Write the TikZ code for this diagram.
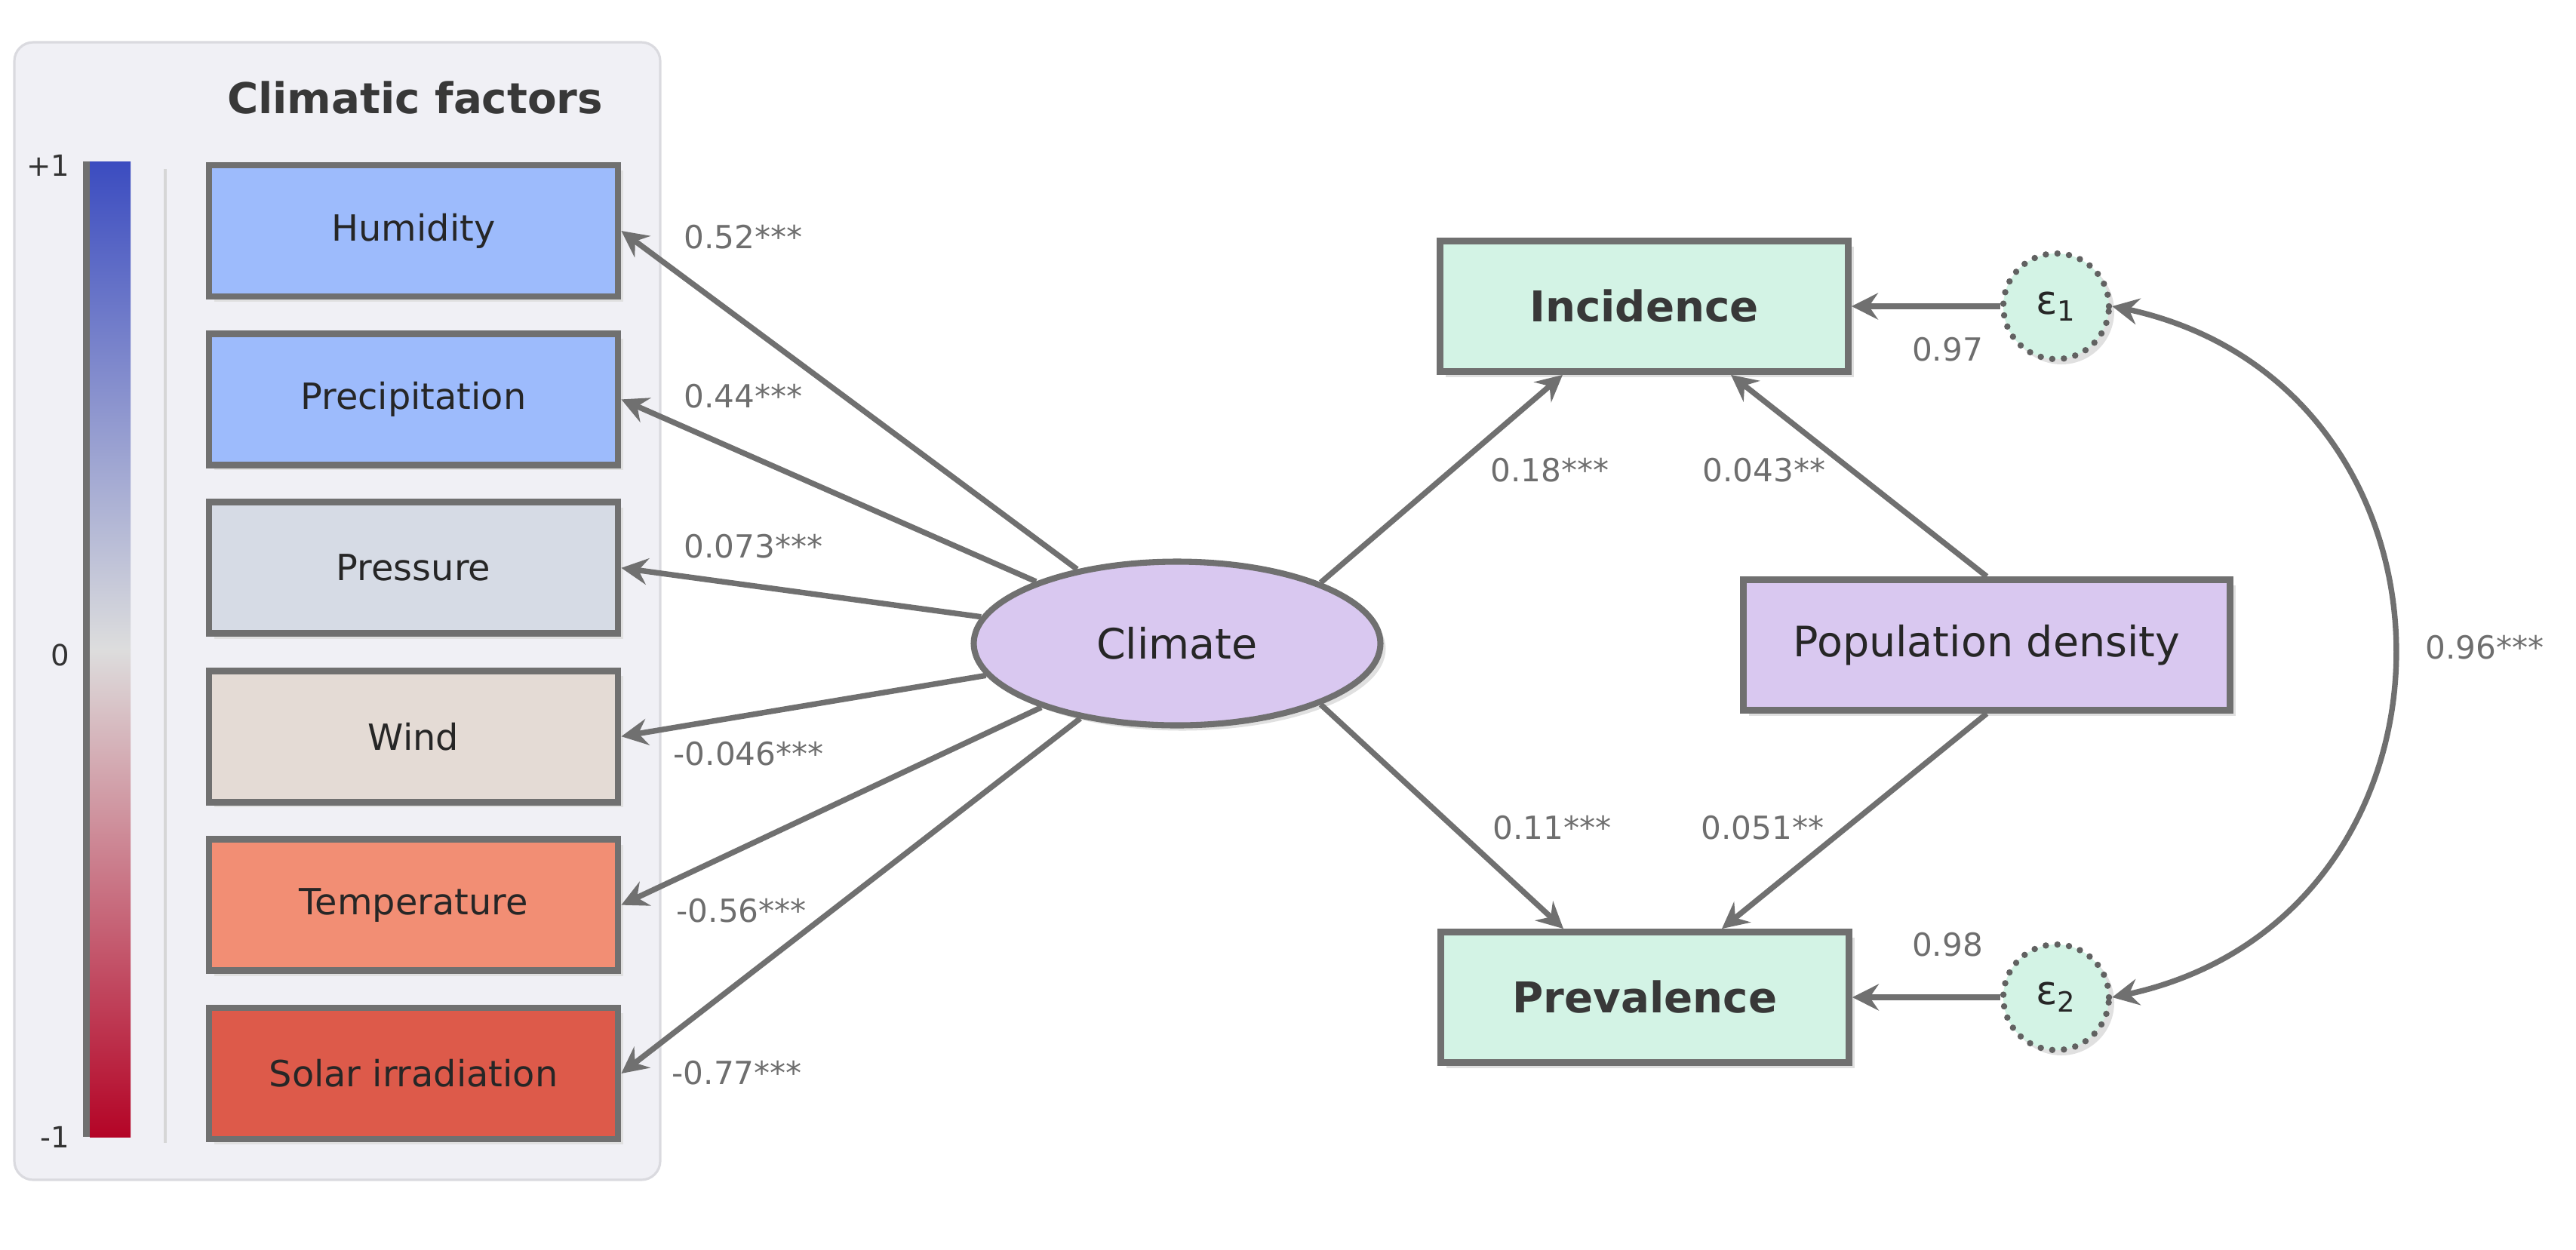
\documentclass[tikz,border=0pt]{standalone}
\usepackage{fontspec}
\setmainfont{DejaVu Sans}
\usetikzlibrary{
    arrows.meta,
    bending,
    positioning,
    shapes.geometric,
    shadows
}
\definecolor{linegray}{HTML}{707070}
\definecolor{panelfill}{HTML}{F0F0F5}
\definecolor{paneledge}{HTML}{DADADF}
\definecolor{humidc}{HTML}{9DBBFC}
\definecolor{pressc}{HTML}{D6DBE5}
\definecolor{windc}{HTML}{E4DBD5}
\definecolor{tempc}{HTML}{F28E74}
\definecolor{solarc}{HTML}{DD5A4A}
\definecolor{lilac}{HTML}{D9C8F0}
\definecolor{mint}{HTML}{D3F3E5}
\definecolor{cbblue}{HTML}{3B4CC0}
\definecolor{cbgray}{HTML}{DDDDDD}
\definecolor{cbred}{HTML}{B40426}
\tikzset{
    % Colors
    text dark/.style={text=black!85},
    coef color/.style={text=black!57},
    %
    % Fonts
    box font/.style={font=\fontsize{13.6}{16}\selectfont},
    big font/.style={font=\fontsize{15.8}{19}\selectfont},
    bold font/.style={font=\bfseries\fontsize{16}{19}\selectfont},
    %
    % Nodes
    soft shadow/.style={drop shadow={shadow xshift=0.07cm,shadow yshift=-0.07cm,fill=black!12,opacity=1}},
    factor/.style={draw=linegray,line width=2.5pt,minimum width=5.42cm,minimum height=1.74cm,text dark,box font,soft shadow},
    outcome/.style={factor,fill=mint,minimum width=5.41cm,minimum height=1.73cm,bold font,text=black!78},
    latent/.style={ellipse,draw=linegray,line width=2.3pt,fill=lilac,minimum width=5.39cm,minimum height=2.17cm,text dark,big font,soft shadow},
    error/.style={circle,draw=black!62,line width=2.4pt,dash pattern=on 0pt off 4.4pt,line cap=round,fill=mint,minimum size=1.40cm,text dark,font=\fontsize{15}{17}\selectfont,soft shadow},
    coef/.style={coef color,font=\fontsize{12}{14}\selectfont,inner sep=0pt},
    scale label/.style={anchor=east,text=black!80,font=\fontsize{11}{13}\selectfont,inner sep=0pt},
    %
    % Arrows
    arrow tip/.tip={Stealth[length=3.5mm,width=3.5mm,inset=1.2mm]},
    arr/.style={->,>={arrow tip},line width=2.1pt,draw=linegray},
    darr/.style={<->,>={arrow tip},line width=2.1pt,draw=linegray}
}

\begin{document}
\begin{tikzpicture}
    \useasboundingbox (0,0) rectangle (34.14,-16.56);
    % panel with the colour scale
    \draw[fill=panelfill,draw=paneledge,line width=0.9pt,rounded corners=0.25cm] (0.19,-0.56) rectangle (8.75,-15.64);
    \node[text=black!78,bold font] (title) at (5.50,-1.30) {Climatic factors};
    \fill[linegray] (1.10,-2.14) rectangle (1.19,-15.07);
    \shade[top color=cbblue,bottom color=cbgray] (1.19,-2.14) rectangle (1.73,-8.61);
    \shade[top color=cbgray,bottom color=cbred] (1.19,-8.60) rectangle (1.73,-15.07);
    \node[scale label] (plusone) at (0.93,-2.19) {+1};
    \node[scale label] (zero) at (0.93,-8.68) {0};
    \node[scale label] (minusone) at (0.93,-15.07) {-1};
    \draw[line width=1.1pt,color=black!16] (2.19,-2.24) -- (2.19,-15.15);
    \foreach \name/\txt/\col [count=\i from 0] in {hum/Humidity/humidc,prec/Precipitation/humidc,pres/Pressure/pressc,wind/Wind/windc,temp/Temperature/tempc,solar/Solar irradiation/solarc}
        \node[factor,fill=\col] (\name) at (5.48,{-3.06-2.234*\i}) {\txt};
    %
    % model
    \node[latent] (climate) at (15.60,-8.53) {Climate};
    \node[outcome] (inc) at (21.79,-4.06) {Incidence};
    \node[outcome] (prev) at (21.80,-13.22) {Prevalence};
    \node[factor,fill=lilac,minimum width=6.45cm,minimum height=1.73cm,big font] (pop) at (26.33,-8.55) {Population density};
    \node[error] (e1) at (27.25,-4.06) {ε\textsubscript{1}};
    \node[error] (e2) at (27.25,-13.22) {ε\textsubscript{2}};
    %
    \foreach \name in {hum,prec,pres,wind,temp,solar}
        \draw[arr] (climate) -- (\name.east);
    \draw[arr] (climate.23) -- ([xshift=-1.08cm]inc.south);
    \draw[arr] (climate.-23) -- ([xshift=-1.08cm]prev.north);
    \draw[arr] (pop.north) -- ([xshift=1.15cm]inc.south);
    \draw[arr] (pop.south) -- ([xshift=1.02cm]prev.north);
    \draw[arr] (e1) -- (inc);
    \draw[arr] (e2) -- (prev);
    \draw[darr] (e1.east) .. controls +(-10:5.1) and +(10:5.1) .. (e2.east);
    %
    % coefficients
    \foreach \txt/\x/\y [count=\i] in {0.52***/9.06/3.14,0.44***/9.06/5.25,0.073***/9.06/7.24,-0.046***/8.92/9.99,-0.56***/8.96/12.07,-0.77***/8.90/14.22}
        \node[coef,anchor=west] (c\i) at (\x,-\y) {\txt};
    \node[coef] (cinc) at (20.54,-6.23) {0.18***};
    \node[coef] (cpinc) at (23.38,-6.23) {0.043**};
    \node[coef] (cprev) at (20.57,-10.97) {0.11***};
    \node[coef] (cpprev) at (23.36,-10.97) {0.051**};
    \node[coef] (ce1) at (25.81,-4.63) {0.97};
    \node[coef] (ce2) at (25.81,-12.52) {0.98};
    \node[coef] (ccov) at (32.93,-8.58) {0.96***};
\end{tikzpicture}
\end{document}
